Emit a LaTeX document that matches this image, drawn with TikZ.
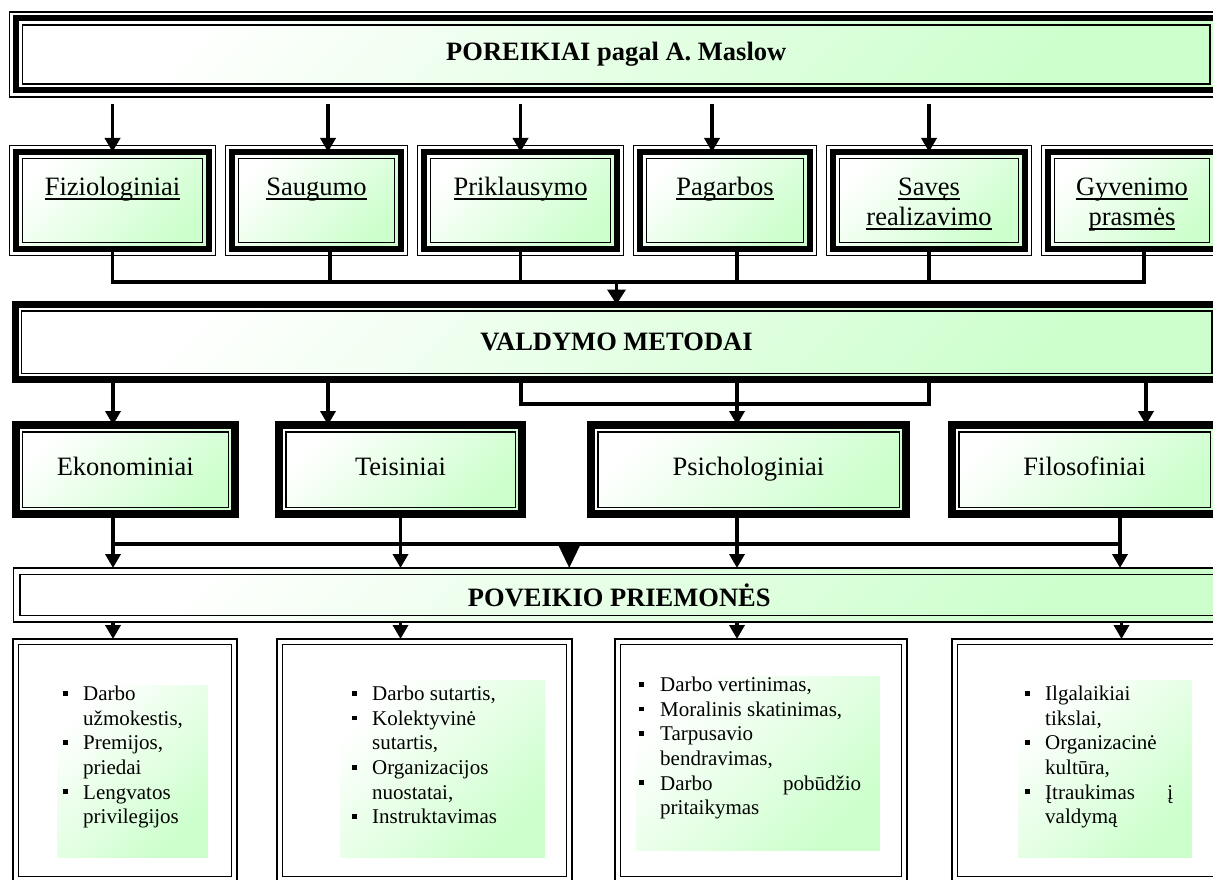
\documentclass[tikz,border=0pt]{standalone}
\usepackage{fontspec}
\setmainfont{Liberation Serif}
\usetikzlibrary{arrows.meta,positioning}
\definecolor{lgreen}{RGB}{204,255,204}
\hyphenpenalty=10000
\exhyphenpenalty=10000
\tolerance=10000
\hbadness=10000
\newcommand{\undl}[1]{\setbox0=\hbox{\strut#1}\rlap{\rule[-4.5pt]{\wd0}{1.4pt}}\box0}
\newcommand{\sqitem}[2][20pt]{\par\hangindent=#1\hangafter=1\noindent\makebox[#1][l]{\rule[0.23em]{0.23em}{0.23em}}#2\par}
\tikzset{
  green fill/.style={top color=white, middle color=white!80!lgreen, bottom color=lgreen, shading angle=45},
  tri box/.style={green fill, draw, line width=6pt, outer sep=0pt, inner sep=0pt},
  thick box/.style={green fill, draw, line width=#1, outer sep=0pt, inner sep=0pt},
  thin box/.style={draw, line width=1.5pt, outer sep=0pt, inner sep=0pt},
  shade box/.style={green fill, anchor=north west, inner sep=0pt, outer sep=0pt},
  head/.style={font=\fontsize{26.5}{30}\selectfont\bfseries},
  lbl/.style={font=\fontsize{26.5}{30}\selectfont, align=center, inner sep=0pt},
  mlbl/.style={font=\fontsize{26.5}{30}\selectfont, text height=18pt, text depth=6pt},
  items/.style={font=\fontsize{21}{24.6}\selectfont, text width=#1, align=justify, inner sep=0pt, anchor=base west},
  conn/.style={line width=3.5pt},
  arr/.style={conn, -{Triangle[length=14pt,width=15pt]}},
  big arr/.style={conn, -{Triangle[length=23pt,width=21pt]}},
}
\begin{document}
\begin{tikzpicture}[x=1pt, y=-1pt, node distance=23pt]
\useasboundingbox (0,0) rectangle (1213,880);
% poreikiai
\node[tri box, head, anchor=north west, minimum width=1200.5pt, minimum height=72pt] (por) at (16,18.3) {POREIKIAI pagal A. Maslow};
\node[tri box, anchor=north west, minimum width=193pt, minimum height=97pt] (fiz) at (16,152) {};
\node[tri box, right=of fiz, minimum width=169pt, minimum height=97pt] (saug) {};
\node[tri box, right=of saug, minimum width=193pt, minimum height=97pt] (prik) {};
\node[tri box, right=of prik, minimum width=170pt, minimum height=97pt] (pag) {};
\node[tri box, right=of pag, minimum width=192pt, minimum height=97pt] (sav) {};
\node[tri box, right=of sav, minimum width=168pt, minimum height=97pt] (gyv) {};
\node[lbl, anchor=north] (fizlbl) at ([yshift=-22pt]fiz.north) {\undl{Fiziologiniai}};
\node[lbl, anchor=north] (sauglbl) at ([yshift=-22pt]saug.north) {\undl{Saugumo}};
\node[lbl, anchor=north] (priklbl) at ([yshift=-22pt]prik.north) {\undl{Priklausymo}};
\node[lbl, anchor=north] (paglbl) at ([yshift=-22pt]pag.north) {\undl{Pagarbos}};
\node[lbl, anchor=north] (savlbl) at ([yshift=-22pt]sav.north) {\undl{Savęs}\\\undl{realizavimo}};
\node[lbl, anchor=north] (gyvlbl) at ([yshift=-22pt]gyv.north) {\undl{Gyvenimo}\\\undl{prasmės}};

% metodai
\node[thick box=7pt, head, anchor=north west, minimum width=1203pt, minimum height=75pt] (valdymo) at (15,304.5) {VALDYMO METODAI};
\node[thick box=8pt, mlbl, anchor=north west, minimum width=219.5pt, minimum height=89pt] (ekon) at (15.5,425) {Ekonominiai};
\node[thick box=8pt, mlbl, anchor=north west, minimum width=243pt, minimum height=89pt] (teis) at (279,425) {Teisiniai};
\node[thick box=8pt, mlbl, anchor=north west, minimum width=315pt, minimum height=89pt] (psich) at (591,425) {Psichologiniai};
\node[thick box=8pt, mlbl, anchor=north west, minimum width=265pt, minimum height=89pt] (filos) at (952,425) {Filosofiniai};

% priemones
\node[thin box, green fill, head, anchor=north west, minimum width=1211.5pt, minimum height=54pt] (pov) at (13.5,568) {POVEIKIO PRIEMONĖS};
\node[thin box, anchor=north west, minimum width=224pt, minimum height=243pt] (econlist) at (13,639) {};
\node[thin box, anchor=north west, minimum width=295pt, minimum height=243pt] (lawlist) at (277,639) {};
\node[thin box, anchor=north west, minimum width=292pt, minimum height=243pt] (psylist) at (615,639) {};
\node[thin box, anchor=north west, minimum width=300pt, minimum height=243pt] (philist) at (952,639) {};

\node[shade box, minimum width=151pt, minimum height=172pt] (econshade) at (57,685) {};
\node[shade box, minimum width=205pt, minimum height=177pt] (lawshade) at (340,680) {};
\node[shade box, minimum width=244pt, minimum height=174pt] (psyshade) at (636,676) {};
\node[shade box, minimum width=174pt, minimum height=177pt] (phishade) at (1018,680) {};

\node[items=142pt] (econtxt) at ([xshift=6pt,yshift=9pt]econshade.north west)
  {\sqitem{Darbo užmokestis,}\sqitem{Premijos, priedai}\sqitem{Lengvatos privilegijos}};
\node[items=170pt] (lawtxt) at ([xshift=12pt,yshift=4pt]lawshade.north west)
  {\sqitem{Darbo sutartis,}\sqitem{Kolektyvinė sutartis,}\sqitem{Organizacijos nuostatai,}\sqitem{Instruktavimas}};
\node[items=222pt] (psytxt) at ([xshift=3pt,yshift=9pt]psyshade.north west)
  {\sqitem[21pt]{Darbo vertinimas,}\sqitem[21pt]{Moralinis skatinimas,}\sqitem[21pt]{Tarpusavio bendravimas,}\sqitem[21pt]{Darbo pobūdžio pritaikymas}};
\node[items=148pt] (phitxt) at ([xshift=7pt,yshift=4pt]phishade.north west)
  {\sqitem{Ilgalaikiai tikslai,}\sqitem{Organizacinė kultūra,}\sqitem{Įtraukimas į valdymą}};

% papildomos linijos
\foreach \n in {por,fiz,saug,prik,pag,sav,gyv}
  \draw[line width=1.5pt] ([shift={(-6.5pt,6.5pt)}]\n.north west) rectangle ([shift={(6.5pt,-6.5pt)}]\n.south east);
\foreach \n/\d in {por/6.5,fiz/6.5,saug/6.5,prik/6.5,pag/6.5,sav/6.5,gyv/6.5,valdymo/6.25,ekon/6.75,teis/6.75,psich/6.75,filos/6.75,pov/6.5,econlist/5.5,lawlist/5.5,psylist/5.5,philist/5.5}
  \draw[line width=1.5pt] ([shift={(\d pt,-\d pt)}]\n.north west) rectangle ([shift={(-\d pt,\d pt)}]\n.south east);

% rodykles
\draw[arr, shorten <=14pt] (fiz.north |- por.south) -- (fiz.north);
\draw[arr, shorten <=14pt] ([xshift=11.5pt]saug.north |- por.south) -- ([xshift=11.5pt]saug.north);
\draw[arr, shorten <=14pt] (prik.north |- por.south) -- (prik.north);
\draw[arr, shorten <=14pt] ([xshift=-13pt]pag.north |- por.south) -- ([xshift=-13pt]pag.north);
\draw[arr, shorten <=14pt] (sav.north |- por.south) -- (sav.north);

\coordinate (nbar) at ([yshift=22.5pt]valdymo.north);
\draw[conn] (fiz.south) |- ([xshift=12pt]gyv.south |- nbar) -- ([xshift=12pt]gyv.south);
\draw[conn] ([xshift=13.5pt]saug.south) -- ([xshift=13.5pt]saug.south |- nbar);
\draw[conn] (prik.south) -- (prik.south |- nbar);
\draw[conn] ([xshift=12pt]pag.south) -- ([xshift=12pt]pag.south |- nbar);
\draw[conn] (sav.south) -- (sav.south |- nbar);
\draw[arr, -{Triangle[length=15pt,width=18pt]}] (nbar -| valdymo.north) -- (valdymo.north);

\draw[conn] ([xshift=-95.5pt]valdymo.south) |- ([xshift=312.5pt,yshift=-24.5pt]valdymo.south) -- ([xshift=312.5pt]valdymo.south);
\draw[arr] ([xshift=-12.25pt]ekon.north |- valdymo.south) -- ([xshift=-12.25pt]ekon.north);
\draw[arr] ([xshift=-72.5pt]teis.north |- valdymo.south) -- ([xshift=-72.5pt]teis.north);
\draw[arr] ([xshift=-11.5pt]psich.north |- valdymo.south) -- ([xshift=-11.5pt]psich.north);
\draw[arr] ([xshift=61.5pt]filos.north |- valdymo.south) -- ([xshift=61.5pt]filos.north);

\coordinate (mbar) at ([yshift=24pt]pov.north);
\draw[conn] ([xshift=-12.25pt]ekon.south) |- ([xshift=35.5pt]filos.south |- mbar) -- ([xshift=35.5pt]filos.south);
\draw[conn] (teis.south) -- (teis.south |- mbar);
\draw[conn] ([xshift=-11.5pt]psich.south) -- ([xshift=-11.5pt]psich.south |- mbar);
\draw[arr] ([xshift=-12.25pt]ekon.south |- mbar) -- ([xshift=-12.25pt]ekon.south |- pov.north);
\draw[arr] (teis.south |- mbar) -- (teis.south |- pov.north);
\draw[arr] ([xshift=-11.5pt]psich.south |- mbar) -- ([xshift=-11.5pt]psich.south |- pov.north);
\draw[arr] ([xshift=35.5pt]filos.south |- mbar) -- ([xshift=35.5pt]filos.south |- pov.north);
\draw[big arr] ([xshift=-50pt]pov.north |- mbar) -- ([xshift=-50pt]pov.north);

\draw[arr] ([xshift=-12.25pt]ekon.south |- pov.south) -- ([xshift=-12.25pt]ekon.south |- econlist.north);
\draw[arr] (teis.south |- pov.south) -- (teis.south |- lawlist.north);
\draw[arr] ([xshift=-11.5pt]psich.south |- pov.south) -- ([xshift=-11.5pt]psich.south |- psylist.north);
\draw[arr] ([xshift=37pt]filos.south |- pov.south) -- ([xshift=37pt]filos.south |- philist.north);
\end{tikzpicture}
\end{document}
